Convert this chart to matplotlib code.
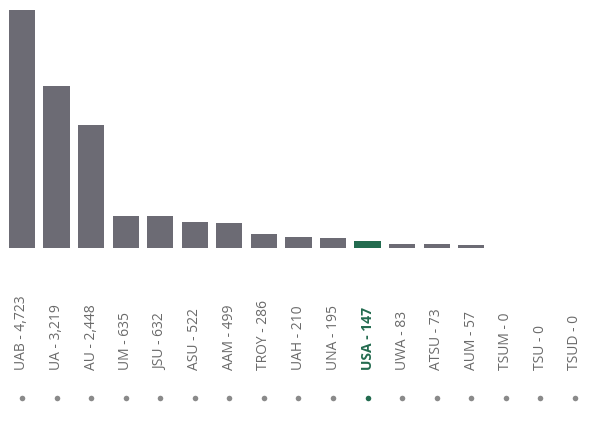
import matplotlib
matplotlib.use("Agg")
import matplotlib.pyplot as plt
import matplotlib.transforms as mtransforms

categories = ["UAB", "UA", "AU", "UM", "JSU", "ASU", "AAM", "TROY", "UAH",
              "UNA", "USA", "UWA", "ATSU", "AUM", "TSUM", "TSU", "TSUD"]
values = [4723, 3219, 2448, 635, 632, 522, 499, 286, 210, 195, 147, 83, 73, 57, 0, 0, 0]
highlight = "USA"

W, H = 589, 423
fig = plt.figure(figsize=(W / 100, H / 100), dpi=100)
ax = fig.add_axes([0, (H - 248) / H, 1, 238 / H])

step = 34.56
x0 = 22 / step
xs = list(range(len(categories)))
gray = "#6c6b74"
green = "#236b4f"
colors = [green if c == highlight else gray for c in categories]
ax.bar(xs, values, width=0.76, color=colors, edgecolor="none")
ax.set_xlim(-x0, (W - 22) / step)
ax.set_ylim(0, max(values))
ax.axis("off")

trans = mtransforms.blended_transform_factory(ax.transData, fig.transFigure)
for x, c, v in zip(xs, categories, values):
    hl = c == highlight
    col = green if hl else "#6a6a6a"
    ax.text(x, (H - 370) / H, f"{c} - {v:,}", rotation=90, ha="center", va="bottom",
            transform=trans, fontsize=10, family="Open Sans", color=col,
            fontweight="bold" if hl else "normal")
    ax.plot([x], [(H - 398) / H], marker="o", markersize=4, color=col if hl else "#8a8a8a",
            transform=trans, clip_on=False, markeredgewidth=0)

fig.savefig("out.png", dpi=100, facecolor="white")
